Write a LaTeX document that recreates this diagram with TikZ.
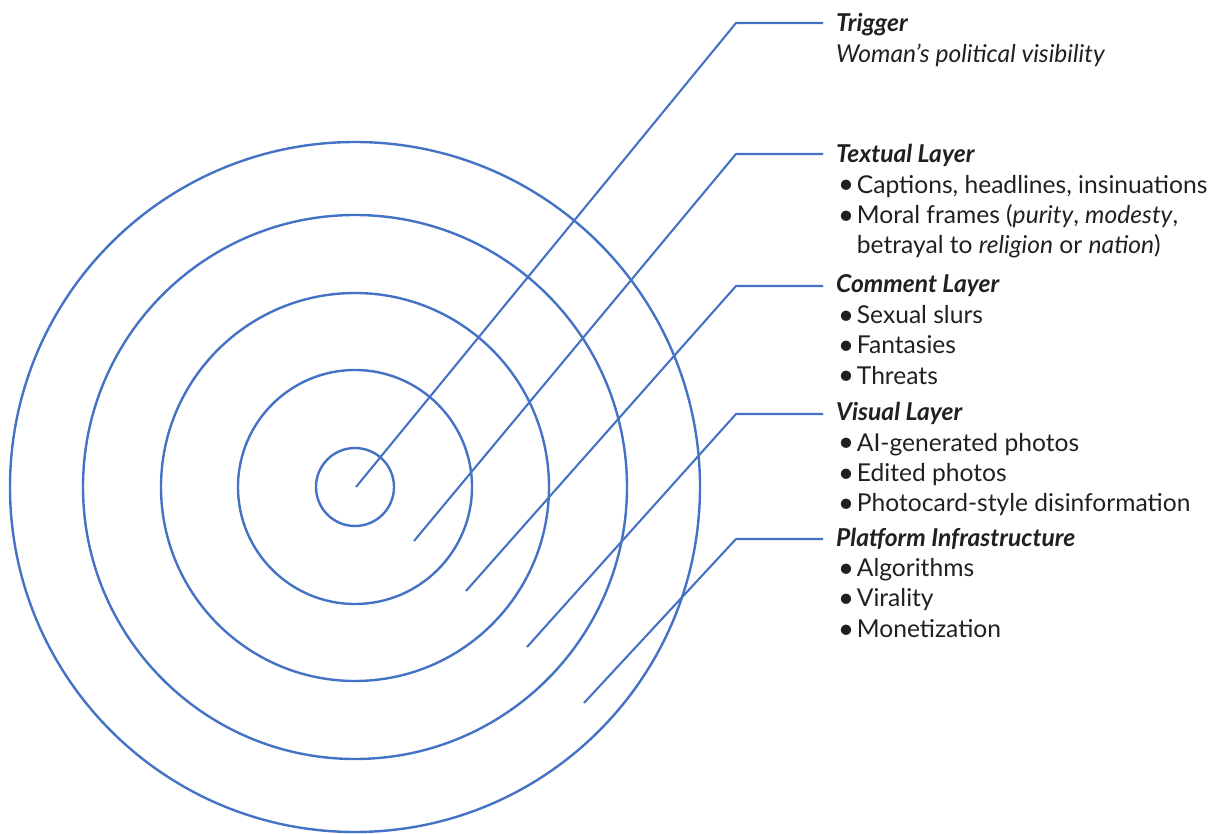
\documentclass[tikz,border=0pt]{standalone}
\usepackage{fontspec}
\setmainfont{Lato}
\usetikzlibrary{positioning}
\definecolor{ringblue}{HTML}{4472C4}
\definecolor{inkgray}{HTML}{231F20}
\newcommand{\itm}{\hspace*{2pt}\makebox[18.7pt][l]{\raisebox{-0.8pt}{\scalebox{1.12}{•}}}}
\newcommand{\hng}{\hspace*{20.7pt}}
\newcommand{\hdr}[1]{\textbf{\textit{#1}}}
\newcommand{\layerlines}[1]{\begin{tabular}[t]{@{}l@{}}#1\end{tabular}}

\begin{document}
\begin{tikzpicture}[x=1pt,y=-1pt,
  ring/.style={draw=ringblue,line width=2.4pt},
  leader/.style={draw=ringblue,line width=2.1pt},
  layerlabel/.style={anchor=base west,inner xsep=13pt,inner ysep=0pt,
    text=inkgray,font=\fontsize{24.6}{30.4}\selectfont}]
  \useasboundingbox (0,0) rectangle (1227,834);
  \coordinate (C) at (355,487);
  \draw[ring] (C) circle[radius=39pt];
  \draw[ring] (C) circle[radius=117pt];
  \draw[ring] (C) circle[radius=194pt];
  \draw[ring] (C) circle[radius=272pt];
  \draw[ring] (C) circle[radius=345pt];
  \coordinate (tip1) at (356,487);
  \coordinate (tip2) at (414,541);
  \coordinate (tip3) at (466,591);
  \coordinate (tip4) at (527,647);
  \coordinate (tip5) at (584,703);
  \coordinate (bend1) at (736,23);
  \coordinate (bend2) at (736,154);
  \coordinate (bend3) at (736,286);
  \coordinate (bend4) at (736,414);
  \coordinate (bend5) at (736,539);
  \node[layerlabel] (trigger) at (823,31.7) {\layerlines{\hdr{Trigger}\\
    \textit{Woman’s political visibility}}};
  \node[layerlabel] (textual) at (823,162.7) {\layerlines{\hdr{Textual Layer}\\
    \itm Captions, headlines, insinuations\\
    \itm Moral frames (\textit{purity}, \textit{modesty},\\
    \hng betrayal to \textit{religion} or \textit{nation})}};
  \node[layerlabel] (comment) at (823,293) {\layerlines{\hdr{Comment Layer}\\
    \itm Sexual slurs\\
    \itm Fantasies\\
    \itm Threats}};
  \node[layerlabel] (visual) at (823,420.7) {\layerlines{\hdr{Visual Layer}\\
    \itm AI-generated photos\\
    \itm Edited photos\\
    \itm Photocard-style disinformation}};
  \node[layerlabel] (platform) at (823,546) {\layerlines{\hdr{Platform Infrastructure}\\
    \itm Algorithms\\
    \itm Virality\\
    \itm Monetization}};
  \draw[leader] (tip1) -- (bend1) -- (bend1 -| trigger.west);
  \draw[leader] (tip2) -- (bend2) -- (bend2 -| textual.west);
  \draw[leader] (tip3) -- (bend3) -- (bend3 -| comment.west);
  \draw[leader] (tip4) -- (bend4) -- (bend4 -| visual.west);
  \draw[leader] (tip5) -- (bend5) -- (bend5 -| platform.west);
\end{tikzpicture}
\end{document}
